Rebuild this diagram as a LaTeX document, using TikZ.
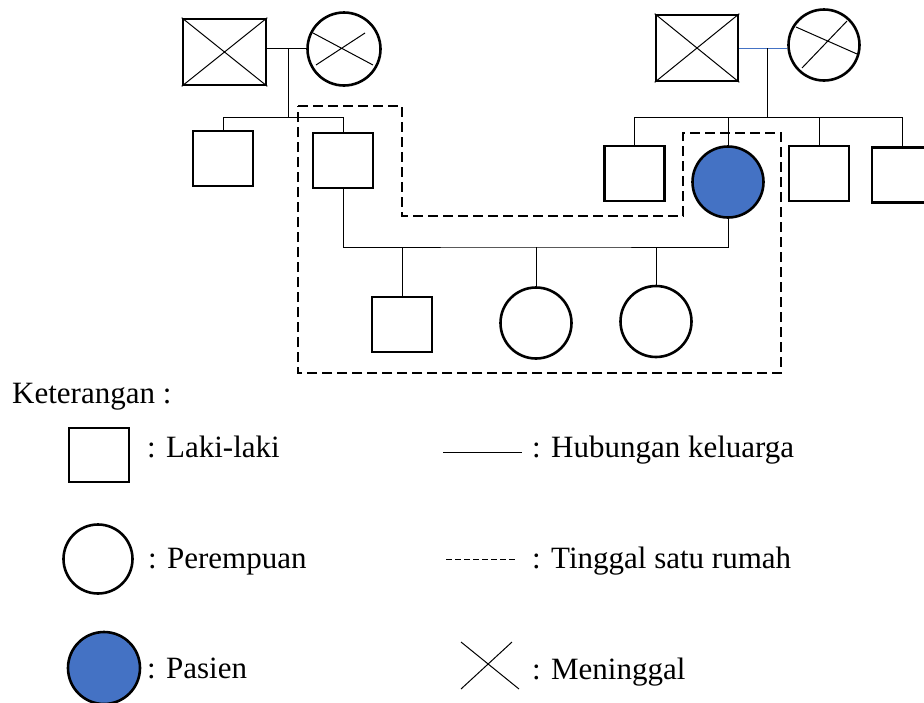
\documentclass[tikz,border=0pt]{standalone}
\usepackage{fontspec}
\setmainfont{Liberation Serif}
\definecolor{pasienblue}{HTML}{4472C4}
\tikzset{
  laki/.style={shape=rectangle,draw=black,line width=2.6pt,minimum width=60pt,minimum height=55pt,inner sep=0pt},
  perempuan/.style={shape=circle,draw=black,line width=2.6pt,minimum size=71pt,inner sep=0pt},
  garis/.style={line width=1pt},
  rumah/.style={line width=2.8pt,dash pattern=on 10pt off 5pt},
  ket/.style={anchor=base west,inner sep=0pt,font=\fontsize{31}{37}\selectfont},
}
\begin{document}
\begin{tikzpicture}[x=1pt,y=-1pt]
        \clip (0,0) rectangle (924,702);
        % keluarga ayah
        \node[laki,minimum width=83pt,minimum height=66pt] (gf-l) at (224.5,52) {};
        \node[perempuan,minimum size=73pt] (gm-l) at (344,49) {};
        \node[laki] (c-l1) at (223,158.5) {};
        \node[laki] (c-l2) at (343,160.5) {};
        \coordinate (m-l) at (288,48);
        \coordinate (sib-l) at (288,117);

        % keluarga ibu
        \node[laki,minimum width=82pt,minimum height=66pt] (gf-r) at (697,48) {};
        \node[perempuan] (gm-r) at (824,45) {};
        \node[laki] (c-r1) at (634.5,173.5) {};
        \node[perempuan,fill=pasienblue] (pasien) at (728,182) {};
        \node[laki] (c-r3) at (819,173.5) {};
        \node[laki] (c-r4) at (902,175) {};
        \coordinate (m-r) at (767,48);
        \coordinate (sib-r) at (767,117);

        % anak
        \coordinate (kel) at (536,247);
        \node[laki] (a1) at (402,324.5) {};
        \node[perempuan] (a2) at (536,323) {};
        \node[perempuan] (a3) at (656,321.5) {};

        % meninggal
        \draw[garis] (gf-l.north west) -- (gf-l.south east) (gf-l.south west) -- (gf-l.north east);
        \draw[garis] ([shift={(-31,-16)}]gm-l.center) -- ([shift={(29,16)}]gm-l.center)
                     ([shift={(-28,16)}]gm-l.center) -- ([shift={(21,-16)}]gm-l.center);
        \draw[garis] (gf-r.north west) -- (gf-r.south east) (gf-r.south west) -- (gf-r.north east);
        \draw[garis] ([shift={(-28,-18)}]gm-r.center) -- ([shift={(33,9)}]gm-r.center)
                     ([shift={(-22,23)}]gm-r.center) -- ([shift={(23,-24)}]gm-r.center);

        % hubungan keluarga
        \draw[garis] (gf-l.east |- m-l) -- (gm-l.west |- m-l);
        \draw[garis] (m-l) -- (sib-l) -| (c-l1.north);
        \draw[garis] (sib-l) -| (c-l2.north);
        \draw[garis,draw=pasienblue] (gf-r.east |- m-r) -- (gm-r.west |- m-r);
        \draw[garis] (m-r) -- (sib-r) -| (c-r1.north);
        \draw[garis] (sib-r) -| (pasien.north);
        \draw[garis] (sib-r) -| (c-r3.north);
        \draw[garis] (sib-r) -| (c-r4.north);
        \draw[garis] (c-l2.south) |- (kel) -| (pasien.south);
        \draw[garis] (kel -| a1.north) -- (a1.north);
        \draw[garis] (kel) -- (a2.north);
        \draw[garis] (kel -| a3.north) -- (a3.north);

        % tinggal satu rumah
        \draw[rumah] (298,106) -- (402,106) -- (402,216) -- (683,216) -- (683,133)
                  -- (781,133) -- (781,373) -- (298,373) -- cycle;

        % keterangan
        \node[ket] (judul) at (12,403) {Keterangan :};
        \node[laki,minimum height=54pt] (lg-laki) at (99,455) {};
        \node[ket] (t-laki) at (147,457) {: Laki-laki};
        \node[perempuan,minimum size=69pt] (lg-perempuan) at (98,559) {};
        \node[ket] (t-perempuan) at (148,568) {: Perempuan};
        \node[perempuan,minimum size=72pt,fill=pasienblue] (lg-pasien) at (104,668) {};
        \node[ket] (t-pasien) at (147,678) {: Pasien};
        \draw[garis] (443,452) -- (522,452);
        \node[ket] (t-hubungan) at (532,457) {: Hubungan keluarga};
        \draw[line width=1pt,dash pattern=on 6pt off 3pt] (446,559) -- (515,559);
        \node[ket] (t-rumah) at (532,568) {: Tinggal satu rumah};
        \draw[garis] (461,642) -- (519,689) (512,642) -- (461,689);
        \node[ket] (t-meninggal) at (532,679) {: Meninggal};
\end{tikzpicture}
\end{document}
